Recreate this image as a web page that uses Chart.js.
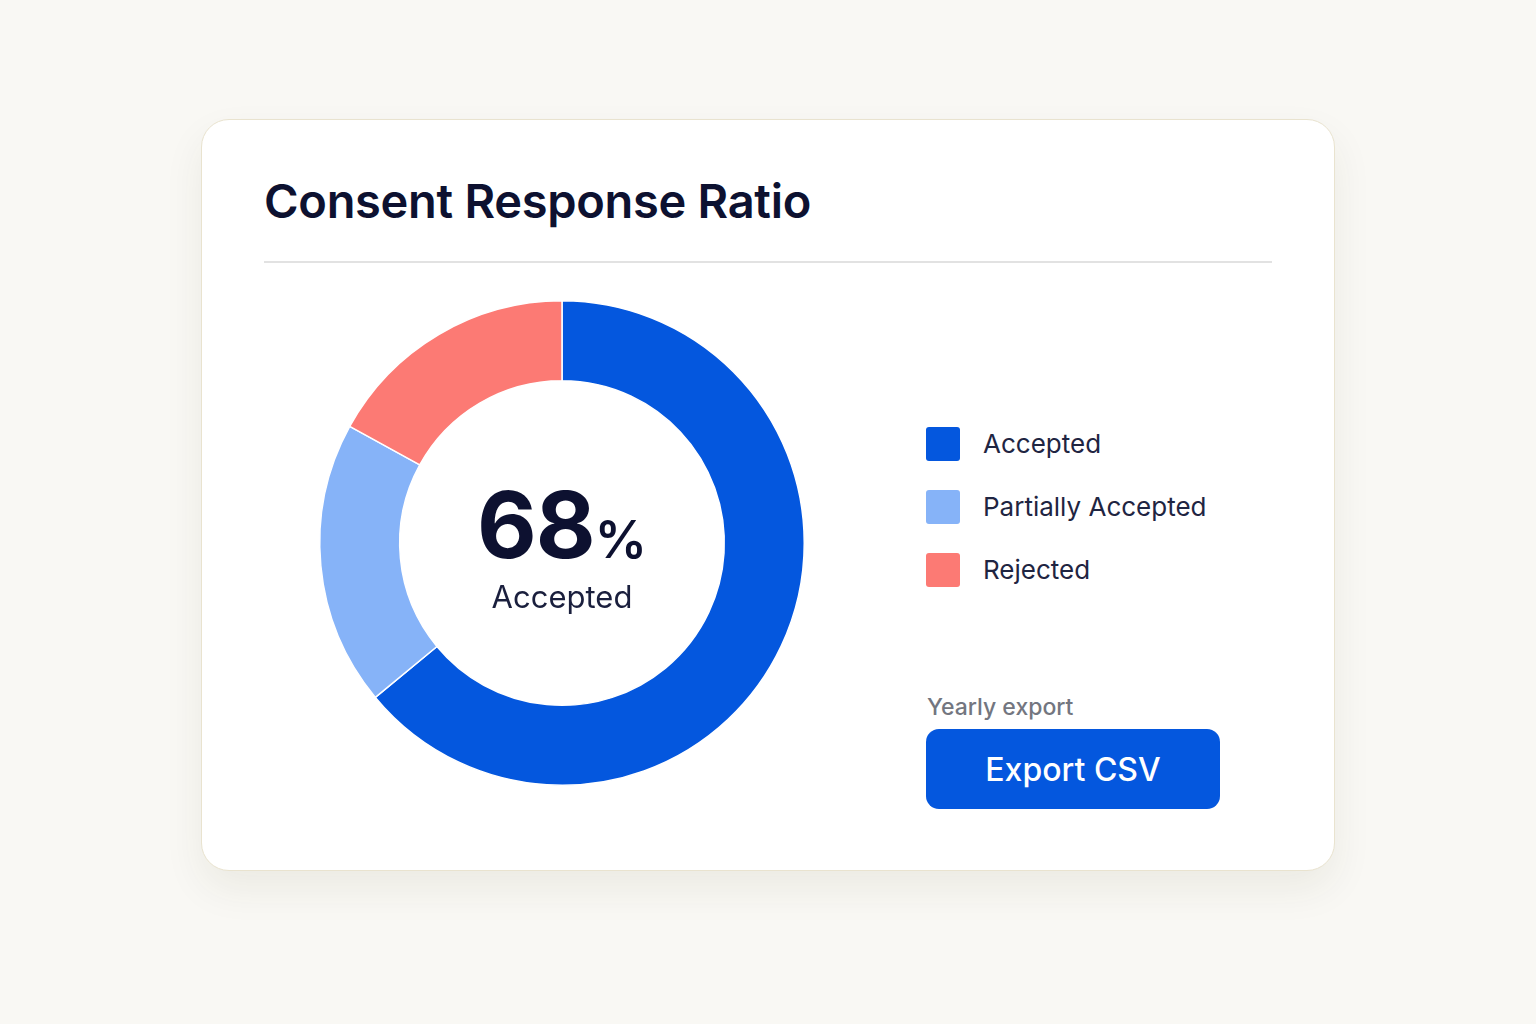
<!DOCTYPE html>
<html lang="en">
<head>
  <meta charset="UTF-8">
  <title>Consent Response Ratio</title>
  <script src="https://cdn.jsdelivr.net/npm/chart.js"></script>
  <style>
    html, body {
      margin: 0;
      width: 1536px;
      height: 1024px;
      background: #f9f8f4;
      font-family: Inter, "Noto Sans", sans-serif;
      overflow: hidden;
    }
    .card {
      position: absolute;
      left: 201px;
      top: 119px;
      width: 1132px;
      height: 750px;
      background: #ffffff;
      border: 1.5px solid #e9e3cf;
      border-radius: 28px;
      box-shadow: 0 18px 40px rgba(60, 50, 20, 0.07);
    }
    .title {
      position: absolute;
      left: 62px;
      top: 52px;
      margin: 0;
      font-size: 47px;
      font-weight: 600;
      color: #0d1130;
      letter-spacing: -0.3px;
    }
    .divider {
      position: absolute;
      left: 62px;
      top: 141px;
      width: 1008px;
      height: 2px;
      background: #e2e2e2;
    }
    .chart-box {
      position: absolute;
      left: 110px;
      top: 173px;
      width: 500px;
      height: 500px;
    }
    .center-label {
      position: absolute;
      left: 210px;
      top: 355px;
      width: 300px;
      text-align: center;
      color: #0d1130;
      pointer-events: none;
    }
    .center-label .big {
      font-size: 92px;
      font-weight: 700;
      line-height: 100px;
      letter-spacing: -1px;
    }
    .center-label .big span {
      font-size: 52px;
      font-weight: 600;
      letter-spacing: 0;
    }
    .center-label .small {
      font-size: 31px;
      line-height: 36px;
      color: #1a1f3d;
      margin-top: -11px;
    }
    .legend {
      position: absolute;
      left: 724px;
      top: 292px;
    }
    .legend-item {
      display: flex;
      align-items: center;
      height: 63px;
      font-size: 26px;
      color: #1f2542;
    }
    .legend-item i {
      display: inline-block;
      width: 34px;
      height: 34px;
      border-radius: 3px;
      margin-right: 23px;
    }
    .export-label {
      position: absolute;
      left: 725px;
      top: 573px;
      font-size: 23px;
      font-weight: 500;
      color: #737680;
    }
    .export-btn {
      position: absolute;
      left: 724px;
      top: 609px;
      width: 294px;
      height: 80px;
      border: none;
      border-radius: 13px;
      background: #0457de;
      color: #ffffff;
      font-family: Inter, "Noto Sans", sans-serif;
      font-size: 32px;
      font-weight: 500;
    }
  </style>
</head>
<body>
  <div class="card">
    <h1 class="title">Consent Response Ratio</h1>
    <div class="divider"></div>
    <div class="chart-box"><canvas id="consentChart"></canvas></div>
    <div class="center-label">
      <div class="big">68<span>%</span></div>
      <div class="small">Accepted</div>
    </div>
    <div class="legend" id="legend"></div>
    <div class="export-label">Yearly export</div>
    <button class="export-btn">Export CSV</button>
  </div>

  <script>
    // values (share of the circle)
    const labels = ['Accepted', 'Partially Accepted', 'Rejected'];
    const shares = [64, 19, 17];
    const colors = ['#0457de', '#86b3f8', '#fc7a74'];

    // html legend built from the same arrays
    const legendEl = document.getElementById('legend');
    labels.forEach((name, i) => {
      const row = document.createElement('div');
      row.className = 'legend-item';
      row.innerHTML = `<i style="background:${colors[i]}"></i>${name}`;
      legendEl.appendChild(row);
    });

    const ctx = document.getElementById('consentChart').getContext('2d');
    new Chart(ctx, {
      type: 'doughnut',
      data: {
        labels: labels,
        datasets: [{
          data: shares,
          backgroundColor: colors,
          borderColor: '#ffffff',
          borderWidth: 1.5,
          hoverOffset: 0
        }]
      },
      options: {
        responsive: true,
        maintainAspectRatio: false,
        animation: false,
        cutout: '67%',
        layout: { padding: 7 },
        plugins: {
          legend: { display: false },
          tooltip: { enabled: false }
        }
      }
    });
  </script>
</body>
</html>
